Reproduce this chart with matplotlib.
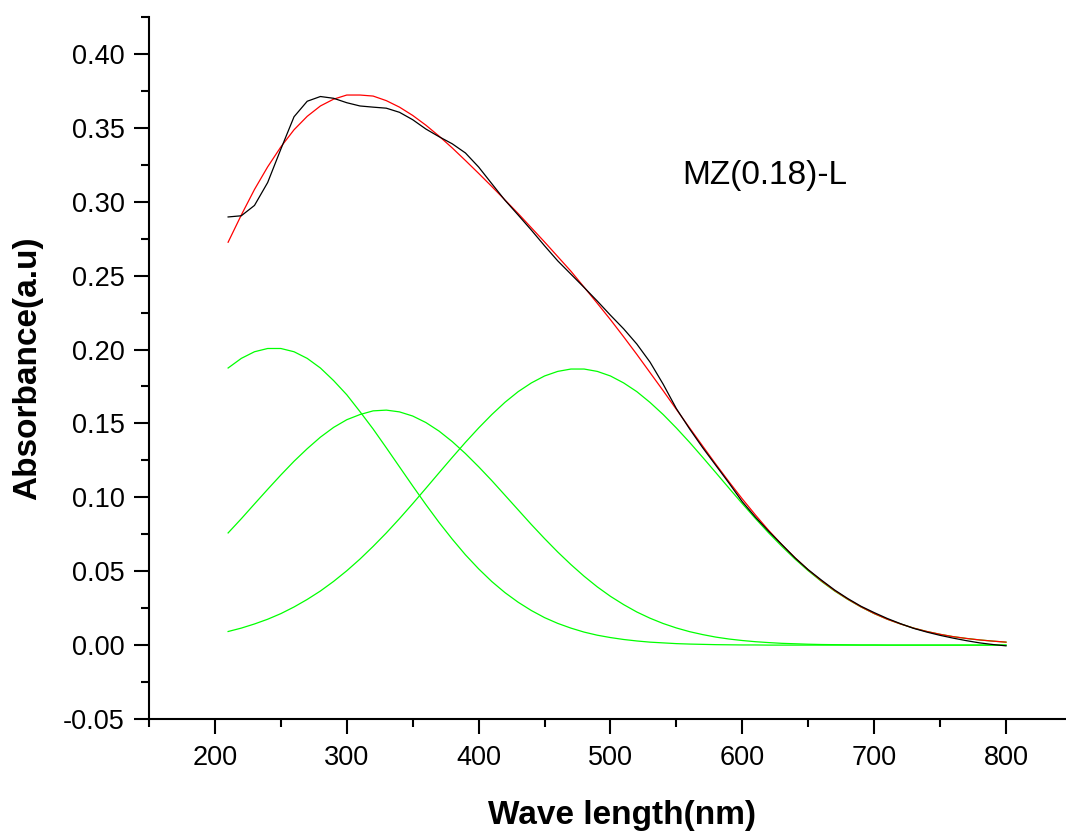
import numpy as np
import matplotlib
matplotlib.use("Agg")
import matplotlib.pyplot as plt
from matplotlib.ticker import MultipleLocator, FormatStrFormatter

plt.rcParams['font.family'] = ['Liberation Sans', 'DejaVu Sans']

# wavelength grid (nm), 210..800 in 10 nm steps
wl = list(range(210, 801, 10))

# measured spectrum (black)
absorb_meas = [0.2897, 0.2905, 0.2975, 0.3130, 0.3356, 0.3575, 0.3680, 0.3712, 0.3700, 0.3670,
               0.3648, 0.3640, 0.3633, 0.3605, 0.3555, 0.3492, 0.3440, 0.3392, 0.3330, 0.3235,
               0.3122, 0.3010, 0.2910, 0.2808, 0.2702, 0.2600, 0.2510, 0.2420, 0.2328, 0.2232,
               0.2140, 0.2037, 0.1915, 0.1765, 0.1600, 0.1463, 0.1335, 0.1215, 0.1095, 0.0970,
               0.0865, 0.0770, 0.0680, 0.0590, 0.0510, 0.0440, 0.0373, 0.0315, 0.0263, 0.0220,
               0.0180, 0.0145, 0.0113, 0.0088, 0.0066, 0.0047, 0.0030, 0.0015, 0.0004, -0.0005]

# fitted components (green)
peak1 = [0.1875, 0.1940, 0.1985, 0.2007, 0.2007, 0.1985, 0.1940, 0.1875, 0.1790, 0.1694,
         0.1580, 0.1462, 0.1335, 0.1206, 0.1077, 0.0951, 0.0830, 0.0717, 0.0611, 0.0516,
         0.0430, 0.0355, 0.0290, 0.0234, 0.0186, 0.0147, 0.0115, 0.0088, 0.0067, 0.0051,
         0.0038, 0.0028, 0.0020, 0.0015, 0.0010, 0.0007, 0.0005, 0.0003, 0.0002, 0.0001,
         0.0001, 0.0, 0.0, 0.0, 0.0, 0.0, 0.0, 0.0, 0.0, 0.0,
         0.0, 0.0, 0.0, 0.0, 0.0, 0.0, 0.0, 0.0, 0.0, 0.0]
peak2 = [0.0759, 0.0855, 0.0955, 0.1054, 0.1151, 0.1244, 0.1329, 0.1407, 0.1473, 0.1525,
         0.1560, 0.1585, 0.1590, 0.1578, 0.1550, 0.1506, 0.1448, 0.1377, 0.1296, 0.1207,
         0.1113, 0.1014, 0.0915, 0.0816, 0.0721, 0.0630, 0.0545, 0.0466, 0.0394, 0.0330,
         0.0274, 0.0224, 0.0182, 0.0146, 0.0116, 0.0091, 0.0071, 0.0054, 0.0041, 0.0031,
         0.0023, 0.0017, 0.0012, 0.0009, 0.0006, 0.0004, 0.0003, 0.0002, 0.0001, 0.0001,
         0.0, 0.0, 0.0, 0.0, 0.0, 0.0, 0.0, 0.0, 0.0, 0.0]
peak3 = [0.0092, 0.0115, 0.0143, 0.0175, 0.0213, 0.0258, 0.0309, 0.0366, 0.0431, 0.0503,
         0.0582, 0.0668, 0.0759, 0.0856, 0.0957, 0.1061, 0.1166, 0.1270, 0.1372, 0.1469,
         0.1560, 0.1643, 0.1715, 0.1774, 0.1821, 0.1852, 0.1868, 0.1868, 0.1852, 0.1821,
         0.1774, 0.1715, 0.1642, 0.1560, 0.1469, 0.1372, 0.1270, 0.1166, 0.1061, 0.0957,
         0.0856, 0.0759, 0.0668, 0.0582, 0.0503, 0.0431, 0.0366, 0.0309, 0.0258, 0.0213,
         0.0175, 0.0143, 0.0115, 0.0092, 0.0073, 0.0057, 0.0045, 0.0035, 0.0027, 0.0020]

# cumulative fit (red)
fit_sum = [0.2726, 0.2910, 0.3083, 0.3236, 0.3371, 0.3487, 0.3578, 0.3648, 0.3694, 0.3722,
           0.3722, 0.3715, 0.3684, 0.3640, 0.3584, 0.3518, 0.3444, 0.3364, 0.3279, 0.3192,
           0.3103, 0.3012, 0.2920, 0.2824, 0.2728, 0.2629, 0.2530, 0.2422, 0.2313, 0.2202,
           0.2086, 0.1967, 0.1844, 0.1721, 0.1595, 0.1470, 0.1346, 0.1223, 0.1104, 0.0989,
           0.0880, 0.0776, 0.0680, 0.0591, 0.0509, 0.0435, 0.0369, 0.0311, 0.0259, 0.0214,
           0.0175, 0.0143, 0.0115, 0.0092, 0.0073, 0.0057, 0.0045, 0.0035, 0.0027, 0.0020]

label = "MZ(0.18)-L"

fig = plt.figure(figsize=(10.66, 8.35), dpi=100)
ax = fig.add_axes([149 / 1066, 1 - 719 / 835, 1 - 149 / 1066, (719 - 17) / 835])

for comp in (peak1, peak2, peak3):
    ax.plot(wl, comp, color='#00ff00', lw=0.9)
ax.plot(wl, fit_sum, color='#ff0000', lw=0.9)
ax.plot(wl, absorb_meas, color='black', lw=0.9)

ax.set_xlim(150, 845.5)
ax.set_ylim(-0.05, 0.425)
ax.xaxis.set_minor_locator(MultipleLocator(50))
ax.yaxis.set_major_locator(MultipleLocator(0.05))
ax.yaxis.set_minor_locator(MultipleLocator(0.025))
ax.yaxis.set_major_formatter(FormatStrFormatter('%.2f'))
ax.set_xticks([200, 300, 400, 500, 600, 700, 800])

for side in ('top', 'right'):
    ax.spines[side].set_visible(False)
for side in ('left', 'bottom'):
    ax.spines[side].set_linewidth(1.5)

ax.tick_params(which='major', direction='out', length=10.5, width=1.5)
ax.tick_params(which='minor', direction='out', length=6, width=1.5)
ax.tick_params(axis='x', which='major', labelsize=19.5, pad=8)
ax.tick_params(axis='y', which='major', labelsize=19.5, pad=7)

ax.set_xlabel("Wave length(nm)", fontsize=24, fontweight='bold', va='center')
ax.xaxis.set_label_coords(0.516, -0.137)
ax.set_ylabel("Absorbance(a.u)", fontsize=24, fontweight='bold', va='center')
ax.yaxis.set_label_coords(-0.132, 0.5)

ax.text(617, 0.318, label, fontsize=24, ha='center', va='center')

fig.savefig("out.png", dpi=100)
